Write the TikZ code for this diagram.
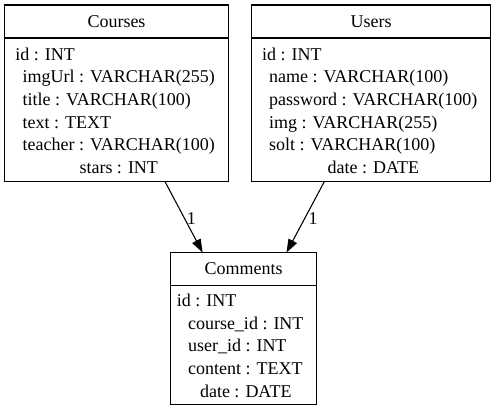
\documentclass[tikz,border=0pt]{standalone}
\usepackage{fontspec}
\setmainfont{Liberation Serif}
\usetikzlibrary{arrows.meta, positioning}
\tikzset{
  tblhead/.style = {rectangle, draw=black, line width=0.8pt, outer sep=0pt, inner sep=0pt, minimum height=24.75pt, font=\fontsize{13.5}{17}\selectfont},
  tblbody/.style = {tblhead, minimum height=107.5pt},
  arr/.style = {-{Triangle[length=10pt, width=7pt]}, line width=0.8pt},
  card/.style = {right, inner sep=2pt, font=\fontsize{13.5}{17}\selectfont}
}
% extra room above the first field, to push the field list down a little
\newcommand{\toprow}{\rule{0pt}{15.6pt}}

\begin{document}
\begin{tikzpicture}[x=0.75pt, y=-0.75pt]
\useasboundingbox (0,0) rectangle (496,412);

% Table 1: Courses (top left)
\node[tblhead, minimum width=168.3pt, anchor=north west] (coursesH) at (4.3,5) {Courses};
\node[tblbody, minimum width=168.3pt, below=0pt of coursesH] (coursesB) {\begin{tabular}{@{}l@{}}
\toprow\hspace*{-2pt}id : INT\\
\ imgUrl : VARCHAR(255)\\
\ title : VARCHAR(100)\\
\ text : TEXT\\
\ teacher : VARCHAR(100)\\
\multicolumn{1}{@{}c@{}}{\ stars : INT}
\end{tabular}};

% Table 2: Users (top right)
\node[tblhead, minimum width=179pt, anchor=north west] (usersH) at (251.7,5) {Users};
\node[tblbody, minimum width=179pt, below=0pt of usersH] (usersB) {\begin{tabular}{@{}l@{}}
\toprow\hspace*{-2pt}id : INT\\
\ name : VARCHAR(100)\\
\ password : VARCHAR(100)\\
\ img : VARCHAR(255)\\
\ solt : VARCHAR(100)\\
\multicolumn{1}{@{}c@{}}{\ date : DATE}
\end{tabular}};

% Table 3: Comments (bottom middle)
\node[tblhead, minimum width=109.2pt, anchor=north west] (commentsH) at (170.7,252.6) {Comments};
\node[tblbody, minimum width=109.2pt, minimum height=88.9pt, below=0pt of commentsH] (commentsB) {\begin{tabular}{@{}l@{}}
\toprow\hspace*{-5pt}id : INT\\
\ course\_id : INT\\
\ user\_id : INT\\
\ content : TEXT\\
\multicolumn{1}{@{}c@{}}{\ date : DATE}
\end{tabular}};

% Relations
\draw[arr] (coursesB.-56.5) -- node[card, yshift=-1.5pt] {1} (commentsH.158.3);
\draw[arr] (usersB.-123.8) -- node[card, yshift=-1.5pt] {1} (commentsH.21.7);

\end{tikzpicture}
\end{document}
